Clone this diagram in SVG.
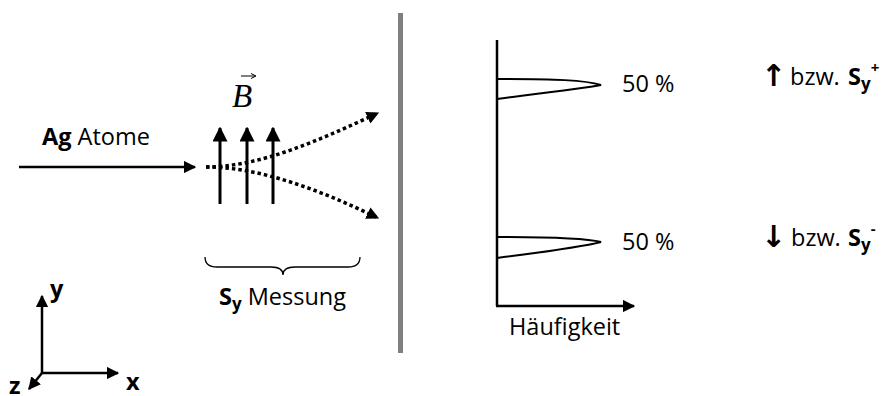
<svg xmlns="http://www.w3.org/2000/svg" width="882" height="396" viewBox="0 0 882 396">
<style>
.t{font-family:"Open Sans","Liberation Sans",sans-serif;font-size:23.5px;fill:#000}
.b{font-weight:bold}
.ln{stroke:#000;fill:none}
.dot{stroke:#000;fill:none;stroke-width:3.5;stroke-dasharray:3.5 3}
.ar{font-family:"DejaVu Sans",sans-serif;font-size:30px;font-weight:bold;fill:#000}
</style>
<defs>
<marker id="ah" viewBox="0 0 10 10" refX="9" refY="5" markerWidth="5" markerHeight="5" orient="auto" markerUnits="strokeWidth">
<path d="M0,0 L10,5 L0,10 Z" fill="#000"/>
</marker>
<marker id="ah2" viewBox="0 0 10 10" refX="9" refY="5" markerWidth="3.6" markerHeight="3.6" orient="auto" markerUnits="strokeWidth">
<path d="M0,0 L10,5 L0,10 Z" fill="#000"/>
</marker>
</defs>
<rect width="882" height="396" fill="#fff"/>

<g id="connectors">
<line class="ln" x1="19" y1="167" x2="195" y2="167" stroke-width="2.5" marker-end="url(#ah)"/>
<path class="dot" d="M206,167 C260,167 320,140 378,113" marker-end="url(#ah2)"/>
<path class="dot" d="M206,167 C260,167 320,190 378,218" marker-end="url(#ah2)"/>
</g>

<g id="source">
<text class="t" x="42" y="145"><tspan class="b">Ag</tspan> Atome</text>
</g>

<g id="magnet">
<line class="ln" x1="220" y1="204" x2="220" y2="128" stroke-width="3" marker-end="url(#ah)"/>
<line class="ln" x1="247" y1="204" x2="247" y2="128" stroke-width="3" marker-end="url(#ah)"/>
<line class="ln" x1="273" y1="204" x2="273" y2="128" stroke-width="3" marker-end="url(#ah)"/>
<text x="232" y="107" font-family="'Liberation Serif',serif" font-style="italic" font-size="33" fill="#000">B</text>
<line class="ln" x1="241" y1="76" x2="255" y2="76" stroke-width="1"/>
<path d="M251,73.5 L256,76 L251,78.5" class="ln" stroke-width="1"/>
</g>

<g id="measurement">
<path class="ln" stroke-width="1.3" d="M205,257 Q205,267 217,267 L271,267 Q283,267 283,275 Q283,267 295,267 L348,267 Q360,267 360,257"/>
<text class="t" x="219" y="305"><tspan class="b">S</tspan><tspan class="b" font-size="17" dy="5">y</tspan><tspan dy="-5"> Messung</tspan></text>
</g>

<g id="screen">
<rect x="398" y="13" width="5" height="340" fill="#808080"/>
</g>

<g id="histogram">
<line class="ln" x1="497" y1="40" x2="497" y2="306" stroke-width="2.5"/>
<line class="ln" x1="496" y1="306" x2="634" y2="306" stroke-width="2.5" marker-end="url(#ah)"/>
<path class="ln" stroke-width="2" d="M497,79 C555,79 585,80 601,85 C585,88 560,91 497,99"/>
<path class="ln" stroke-width="2" d="M497,237 C555,237 585,238 601,242 C585,246 560,250 497,258"/>
<text class="t" x="622" y="92">50 %</text>
<text class="t" x="622" y="250">50 %</text>
<text class="t" x="509" y="335">Häufigkeit</text>
</g>

<g id="spin-up">
<text class="ar" x="761" y="86">↑</text>
<text class="t" x="790" y="85">bzw.</text>
<text class="t b" x="848" y="85">S<tspan font-size="17" dy="5">y</tspan><tspan font-size="15" dy="-17">+</tspan></text>
</g>

<g id="spin-down">
<text class="ar" x="761" y="247">↓</text>
<text class="t" x="791" y="246">bzw.</text>
<text class="t b" x="848" y="246">S<tspan font-size="17" dy="5">y</tspan><tspan font-size="15" dy="-17">-</tspan></text>
</g>

<g id="axes">
<line class="ln" x1="42" y1="374" x2="42" y2="296" stroke-width="2.5" marker-end="url(#ah)"/>
<line class="ln" x1="41" y1="373" x2="118" y2="373" stroke-width="2.5" marker-end="url(#ah)"/>
<line class="ln" x1="42" y1="373" x2="29" y2="389" stroke-width="2.5" marker-end="url(#ah)"/>
<text class="t b" x="50" y="297">y</text>
<text class="t b" x="126" y="390">x</text>
<text class="t b" x="9" y="394">z</text>
</g>
</svg>
